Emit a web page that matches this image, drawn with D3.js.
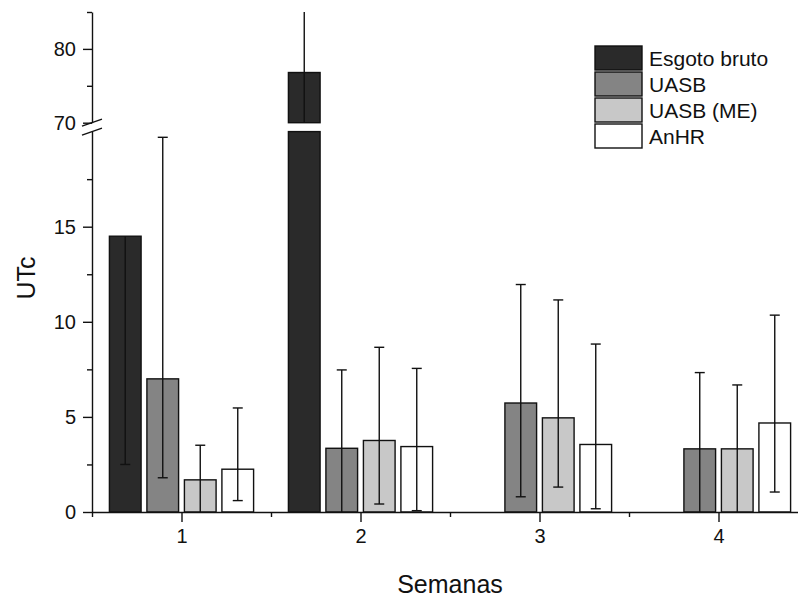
<!DOCTYPE html>
<html>
<head>
<meta charset="utf-8">
<script src="https://cdn.jsdelivr.net/npm/d3@7"></script>
<style>
  html, body { margin: 0; padding: 0; background: #fff; }
  svg { display: block; font-family: "Liberation Sans", Arial, sans-serif; }
</style>
</head>
<body>
<svg id="chart" width="798" height="597"></svg>
<script>
// Weeks and series
const weeks = [1, 2, 3, 4];
const seriesNames = ["Esgoto bruto", "UASB", "UASB (ME)", "AnHR"];
const seriesFill = ["#2a2a2a", "#848484", "#c8c8c8", "#ffffff"];

// Means and error-bar ends (low / high) per series, one value per week
const esgotoMean = [14.5, 76.8, null, null];
const esgotoLow  = [2.5, 61.5, null, null];
const esgotoHigh = [null, 92, null, null];

const uasbMean = [7.0, 3.35, 5.73, 3.32];
const uasbLow  = [1.8, -0.8, 0.8, -0.7];
const uasbHigh = [19.7, 7.47, 11.96, 7.33];

const meMean = [1.69, 3.76, 4.95, 3.32];
const meLow  = [-0.15, 0.42, 1.31, -0.05];
const meHigh = [3.51, 8.66, 11.15, 6.68];

const anhrMean = [2.25, 3.44, 3.55, 4.68];
const anhrLow  = [0.6, 0.07, 0.17, 1.05];
const anhrHigh = [5.47, 7.55, 8.83, 10.35];

// Axis ticks
const lowerMajor = [0, 5, 10, 15];
const lowerMinor = [2.5, 7.5, 12.5, 17.5];
const upperMajor = [70, 80];
const upperMinor = [75, 85];
const xMajor = [1, 2, 3, 4];
const xMinor = [0.5, 1.5, 2.5, 3.5, 4.5];

const means = [esgotoMean, uasbMean, meMean, anhrMean];
const lows  = [esgotoLow, uasbLow, meLow, anhrLow];
const highs = [esgotoHigh, uasbHigh, meHigh, anhrHigh];

const svg = d3.select("#chart");
const FONT = "Liberation Sans, Arial, sans-serif";

// Scales: x in week units, y split into a lower (0–20) and upper (70–85) segment
const x = d3.scaleLinear().domain([0.5, 4.5]).range([92, 808]);
const yLow = d3.scaleLinear().domain([0, 20]).range([512, 131.6]);
const yHigh = d3.scaleLinear().domain([70, 85]).range([122.7, 12]);
const segments = [yLow, yHigh];

const step = 0.2095, barW = 0.177;
const strokeW = 1.4;

// Bars
const bars = svg.append("g");
means.forEach((arr, s) => {
  arr.forEach((v, w) => {
    if (v == null) return;
    const cx = weeks[w] + (s - 1.5) * step;
    const x0 = x(cx - barW / 2), x1 = x(cx + barW / 2);
    segments.forEach(sc => {
      const [d0, d1] = sc.domain();
      if (v <= d0) return;
      const top = Math.min(v, d1);
      bars.append("rect")
        .attr("x", x0).attr("width", x1 - x0)
        .attr("y", sc(top)).attr("height", sc(d0) - sc(top))
        .attr("fill", seriesFill[s])
        .attr("stroke", "#111").attr("stroke-width", strokeW);
    });
  });
});

// Error bars, clipped to each axis segment
const errs = svg.append("g").attr("stroke", "#111").attr("stroke-width", strokeW);
means.forEach((arr, s) => {
  arr.forEach((v, w) => {
    if (v == null) return;
    const lo = lows[s][w] == null ? v : lows[s][w];
    const hi = highs[s][w] == null ? v : highs[s][w];
    const cx = x(weeks[w] + (s - 1.5) * step);
    segments.forEach(sc => {
      const [d0, d1] = sc.domain();
      const a = Math.max(lo, d0), b = Math.min(hi, d1);
      if (b <= a) return;
      errs.append("line").attr("x1", cx).attr("x2", cx)
        .attr("y1", sc(a)).attr("y2", sc(b));
      [[lows[s][w], lo], [highs[s][w], hi]].forEach(([raw, val]) => {
        if (raw == null) return;
        if (val >= d0 && val <= d1) {
          errs.append("line").attr("x1", cx - 5).attr("x2", cx + 5)
            .attr("y1", sc(val)).attr("y2", sc(val));
        }
      });
    });
  });
});

// Y axes (two segments)
function yAxis(sc, major, minor) {
  const g = svg.append("g").attr("transform", "translate(92,0)");
  g.call(d3.axisLeft(sc).tickValues(major).tickSize(9).tickSizeOuter(0).tickPadding(7));
  g.append("g").call(d3.axisLeft(sc).tickValues(minor).tickSize(5).tickSizeOuter(0).tickFormat(""))
    .select(".domain").remove();
  g.selectAll("path, line").attr("stroke", "#111").attr("stroke-width", strokeW);
  g.selectAll("text").attr("font-size", 20).attr("fill", "#111").attr("font-family", FONT);
  return g;
}
yAxis(yLow, lowerMajor, lowerMinor);
yAxis(yHigh, upperMajor, upperMinor);

// Axis break marks
const brk = svg.append("g").attr("stroke", "#111").attr("stroke-width", strokeW);
[yHigh(70), yLow(20)].forEach(yy => {
  brk.append("line").attr("x1", 82).attr("x2", 102)
    .attr("y1", yy + 3.5).attr("y2", yy - 3.5);
});

// X axis
const xg = svg.append("g").attr("transform", "translate(0,512)");
xg.call(d3.axisBottom(x).tickValues(xMajor).tickSize(10).tickSizeOuter(0).tickPadding(7).tickFormat(d3.format("d")));
xg.append("g").call(d3.axisBottom(x).tickValues(xMinor).tickSize(5).tickSizeOuter(0).tickFormat(""))
  .select(".domain").remove();
xg.selectAll("path, line").attr("stroke", "#111").attr("stroke-width", strokeW);
xg.selectAll("text").attr("font-size", 20).attr("fill", "#111").attr("font-family", FONT);

// Axis titles
svg.append("text").attr("x", 450).attr("y", 593).attr("text-anchor", "middle")
  .attr("font-size", 25).attr("fill", "#111").attr("font-family", FONT).text("Semanas");
svg.append("text").attr("transform", "translate(35,278) rotate(-90)").attr("text-anchor", "middle")
  .attr("font-size", 25).attr("fill", "#111").attr("font-family", FONT).text("UTc");

// Legend
const lg = svg.append("g");
seriesNames.forEach((name, i) => {
  const yy = 46 + i * 26;
  lg.append("rect").attr("x", 595).attr("y", yy).attr("width", 47).attr("height", 24)
    .attr("fill", seriesFill[i]).attr("stroke", "#111").attr("stroke-width", strokeW);
  lg.append("text").attr("x", 649).attr("y", yy + 20)
    .attr("font-size", 21).attr("fill", "#111").attr("font-family", FONT).text(name);
});
</script>
</body>
</html>
